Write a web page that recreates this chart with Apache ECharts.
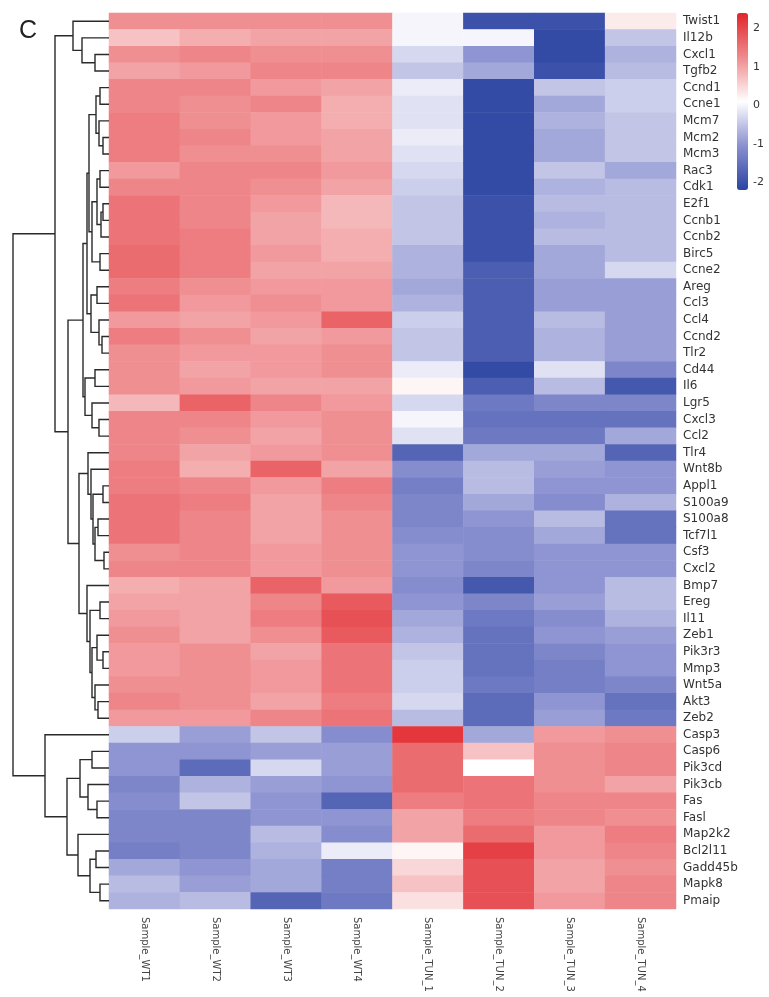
<!DOCTYPE html>
<html>
<head>
<meta charset="utf-8">
<script src="https://cdn.jsdelivr.net/npm/echarts@6/dist/echarts.min.js"></script>
<style>
  html, body { margin: 0; padding: 0; background: #ffffff; }
  #chart { width: 769px; height: 997px; }
</style>
</head>
<body>
<div id="chart"></div>
<script>
// Genes in clustered row order
const genes = [
  'Twist1','Il12b','Cxcl1','Tgfb2','Ccnd1','Ccne1','Mcm7','Mcm2','Mcm3','Rac3',
  'Cdk1','E2f1','Ccnb1','Ccnb2','Birc5','Ccne2','Areg','Ccl3','Ccl4','Ccnd2',
  'Tlr2','Cd44','Il6','Lgr5','Cxcl3','Ccl2','Tlr4','Wnt8b','Appl1','S100a9',
  'S100a8','Tcf7l1','Csf3','Cxcl2','Bmp7','Ereg','Il11','Zeb1','Pik3r3','Mmp3',
  'Wnt5a','Akt3','Zeb2','Casp3','Casp6','Pik3cd','Pik3cb','Fas','Fasl','Map2k2',
  'Bcl2l11','Gadd45b','Mapk8','Pmaip'
];

const samples = ['Sample_WT1','Sample_WT2','Sample_WT3','Sample_WT4',
                 'Sample_TUN_1','Sample_TUN_2','Sample_TUN_3','Sample_TUN_4'];

// Row-scaled expression (z-score), one array per sample, in gene order
const zWT1 = [1.2,0.7,1.2,1.0,1.3,1.3,1.4,1.4,1.4,1.1, 1.3,1.5,1.5,1.5,1.6,1.6,1.4,1.5,1.1,1.4,
              1.2,1.2,1.2,0.8,1.3,1.3,1.3,1.4,1.4,1.5, 1.5,1.5,1.2,1.3,0.9,1.0,1.1,1.2,1.1,1.1,
              1.2,1.3,1.1,-0.4,-1.0,-1.0,-1.2,-1.1,-1.2,-1.2, -1.3,-0.8,-0.6,-0.7];
const zWT2 = [1.2,0.9,1.3,1.1,1.3,1.2,1.2,1.3,1.2,1.3, 1.3,1.3,1.3,1.4,1.4,1.4,1.2,1.1,1.0,1.2,
              1.1,1.0,1.1,1.7,1.3,1.2,1.0,0.9,1.3,1.4, 1.3,1.3,1.3,1.3,1.0,1.0,1.0,1.0,1.2,1.2,
              1.2,1.2,1.1,-0.9,-1.0,-1.6,-0.7,-0.5,-1.2,-1.2, -1.2,-1.0,-0.9,-0.6];
const zWT3 = [1.2,1.0,1.2,1.3,1.1,1.3,1.1,1.1,1.2,1.3, 1.2,1.1,1.0,1.0,1.1,1.0,1.1,1.2,1.1,1.0,
              1.1,1.1,1.0,1.3,1.1,1.0,1.1,1.7,1.1,1.0, 1.0,1.0,1.1,1.1,1.7,1.3,1.4,1.2,1.0,1.1,
              1.1,1.0,1.3,-0.5,-0.9,-0.3,-0.9,-1.0,-1.0,-0.6, -0.7,-0.8,-0.8,-1.7];
const zWT4 = [1.2,1.0,1.2,1.3,1.0,0.9,0.9,1.0,1.0,1.1, 1.0,0.8,0.8,0.9,0.9,1.0,1.1,1.1,1.7,1.1,
              1.2,1.2,1.0,1.1,1.2,1.2,1.2,1.0,1.4,1.3, 1.2,1.2,1.2,1.2,1.1,1.8,1.9,1.8,1.5,1.5,
              1.5,1.4,1.5,-1.1,-0.9,-0.9,-1.0,-1.7,-1.0,-1.1, -0.1,-1.3,-1.3,-1.4];
const zTUN1 = [0.0,0.0,-0.3,-0.5,-0.1,-0.2,-0.2,-0.1,-0.2,-0.3, -0.4,-0.5,-0.5,-0.5,-0.7,-0.7,-0.8,-0.7,-0.4,-0.5,
               -0.5,-0.1,0.2,-0.3,0.0,-0.2,-1.7,-1.1,-1.3,-1.2, -1.2,-1.1,-1.0,-1.0,-1.1,-1.0,-0.8,-0.7,-0.5,-0.4,
               -0.4,-0.3,-0.6,2.2,1.6,1.6,1.6,1.4,1.0,1.0, 0.2,0.5,0.7,0.4];
const zTUN2 = [-2.0,0.0,-1.0,-0.8,-2.1,-2.1,-2.1,-2.1,-2.1,-2.1, -2.1,-2.0,-2.0,-2.0,-2.0,-1.8,-1.8,-1.8,-1.8,-1.8,
               -1.8,-2.1,-1.8,-1.4,-1.5,-1.4,-0.8,-0.6,-0.6,-0.8, -1.0,-1.1,-1.1,-1.2,-1.9,-1.2,-1.4,-1.5,-1.5,-1.5,
               -1.4,-1.6,-1.6,-0.8,0.7,0.1,1.5,1.5,1.4,1.6, 2.1,1.9,1.9,1.9];
const zTUN3 = [-2.0,-2.1,-2.1,-2.0,-0.5,-0.8,-0.7,-0.8,-0.8,-0.5, -0.7,-0.6,-0.7,-0.6,-0.8,-0.8,-0.9,-0.9,-0.6,-0.7,
               -0.7,-0.2,-0.6,-1.2,-1.5,-1.4,-0.8,-0.9,-1.0,-1.1, -0.6,-0.8,-1.0,-1.0,-1.0,-0.9,-1.1,-1.0,-1.2,-1.3,
               -1.3,-1.0,-0.9,1.1,1.2,1.2,1.2,1.3,1.3,1.1, 1.1,1.0,1.0,1.1];
const zTUN4 = [0.3,-0.5,-0.7,-0.6,-0.4,-0.4,-0.5,-0.5,-0.5,-0.8, -0.6,-0.6,-0.6,-0.6,-0.6,-0.3,-0.9,-0.9,-0.9,-0.9,
               -0.9,-1.2,-1.9,-1.2,-1.5,-0.8,-1.7,-1.0,-1.0,-0.7, -1.5,-1.5,-1.0,-1.0,-0.6,-0.6,-0.7,-0.9,-1.0,-1.0,
               -1.2,-1.5,-1.4,1.2,1.3,1.3,1.0,1.3,1.2,1.4, 1.3,1.2,1.3,1.3];

const sampleColumns = [zWT1, zWT2, zWT3, zWT4, zTUN1, zTUN2, zTUN3, zTUN4];

// Hierarchical clustering of genes: [mergeHeight, left, right], leaves are gene names
const geneTree = [96,
  [54,
    [36, 'Twist1', [27, 'Il12b', [14, 'Cxcl1', 'Tgfb2']]],
    [41,
      [26,
        [22,
          [20,
            [13, [9, 'Ccnd1', 'Ccne1'], [10, 'Mcm7', [6, 'Mcm2', 'Mcm3']]],
            [17, [12, [9, 'Rac3', 'Cdk1'], [8, [6, 'E2f1', 'Ccnb1'], 'Ccnb2']], [9, 'Birc5', 'Ccne2']]
          ],
          [18, [12, 'Areg', 'Ccl3'], [10, 'Ccl4', [7, 'Ccnd2', 'Tlr2']]]
        ],
        [24, [14, 'Cd44', 'Il6'], [17, 'Lgr5', [10, 'Cxcl3', 'Ccl2']]]
      ],
      [30,
        [21, 'Tlr4', [18, 'Wnt8b', [16, [6, 'Appl1', 'S100a9'], [14, [11, 'S100a8', 'Tcf7l1'], [5, 'Csf3', 'Cxcl2']]]]],
        [22, 'Bmp7', [19, [9, 'Ereg', 'Il11'], [17, [12, 'Zeb1', [6, 'Pik3r3', 'Mmp3']], [14, 'Wnt5a', [11, 'Akt3', 'Zeb2']]]]]
      ]
    ]
  ],
  [64, 'Casp3',
    [42,
      [29, [17, 'Casp6', 'Pik3cd'], [21, 'Pik3cb', [12, 'Fas', 'Fasl']]],
      [31, 'Map2k2', [19, [13, 'Bcl2l11', 'Gadd45b'], [9, 'Mapk8', 'Pmaip']]]
    ]
  ]
];

// Colour scale
const scaleMin = -2.2;
const scaleMax = 2.4;
const scaleTicks = [-2, -1, 0, 1, 2];
const scaleColors = ['#2b44a1', '#8a90d0', '#ffffff', '#ef8a8d', '#e0262b'];

// ---- build series data ----
const heatData = [];
sampleColumns.forEach((col, c) => {
  col.forEach((v, r) => heatData.push([c, r, v]));
});

// Walk the tree: every internal node yields one elbow link
// [yLeft, yRight, nodeHeight, leftHeight, rightHeight]
const links = [];
function walk(node) {
  if (typeof node === 'string') {
    return { y: genes.indexOf(node) + 0.5, h: 0 };
  }
  const a = walk(node[1]);
  const b = walk(node[2]);
  links.push([a.y, b.y, node[0], a.h, b.h]);
  return { y: (a.y + b.y) / 2, h: node[0] };
}
walk(geneTree);

const FONT = 'DejaVu Sans, Verdana, sans-serif';
const TOP = 13, ROWS_H = 896;

const chart = echarts.init(document.getElementById('chart'), null, { renderer: 'canvas' });

chart.setOption({
  animation: false,
  backgroundColor: '#ffffff',
  title: {
    text: 'C', left: 14, top: 14,
    textStyle: { fontFamily: 'Liberation Sans, Arial, sans-serif', fontSize: 25, fontWeight: 'normal', color: '#222' }
  },
  grid: [
    { left: 109, top: TOP, width: 567, height: ROWS_H },       // heatmap
    { left: 9, top: TOP, width: 100, height: ROWS_H },         // row dendrogram
    { left: 737, top: 13, width: 11, height: 177 }             // colour key axis
  ],
  xAxis: [
    {
      type: 'category', data: samples, gridIndex: 0, position: 'bottom',
      axisLine: { show: false }, axisTick: { show: false }, splitLine: { show: false },
      axisLabel: { rotate: -90, fontFamily: FONT, fontSize: 10, color: '#444', margin: 8 }
    },
    { type: 'value', gridIndex: 1, min: 0, max: 100, inverse: true, show: false },
    { type: 'value', gridIndex: 2, min: 0, max: 1, show: false }
  ],
  yAxis: [
    {
      type: 'category', data: genes, gridIndex: 0, inverse: true, position: 'right',
      axisLine: { show: false }, axisTick: { show: false }, splitLine: { show: false },
      axisLabel: { fontFamily: FONT, fontSize: 12, color: '#333', margin: 7 }
    },
    { type: 'value', gridIndex: 1, min: 0, max: genes.length, inverse: true, show: false },
    {
      type: 'value', gridIndex: 2, min: scaleMin, max: scaleMax, position: 'right',
      axisLine: { show: false }, axisTick: { show: false }, splitLine: { show: false },
      axisLabel: { customValues: scaleTicks, fontFamily: FONT, fontSize: 11, color: '#333', margin: 5 }
    }
  ],
  visualMap: {
    type: 'continuous', seriesIndex: 0, min: scaleMin, max: scaleMax,
    orient: 'vertical', left: 737, top: 13, itemWidth: 11, itemHeight: 177,
    padding: 0, calculable: false, hoverLink: false, text: null,
    inRange: { color: scaleColors }
  },
  series: [
    {
      type: 'heatmap', xAxisIndex: 0, yAxisIndex: 0, data: heatData,
      itemStyle: { borderWidth: 0 }, emphasis: { disabled: true }
    },
    {
      type: 'custom', xAxisIndex: 1, yAxisIndex: 1, data: links,
      encode: { x: [2, 3, 4], y: [0, 1] }, silent: true,
      renderItem: function (params, api) {
        const y1 = api.value(0), y2 = api.value(1);
        const h = api.value(2), h1 = api.value(3), h2 = api.value(4);
        return {
          type: 'polyline',
          shape: { points: [api.coord([h1, y1]), api.coord([h, y1]), api.coord([h, y2]), api.coord([h2, y2])] },
          style: { stroke: '#2a2a2a', lineWidth: 1.4, fill: null }
        };
      }
    }
  ]
});
</script>
</body>
</html>
